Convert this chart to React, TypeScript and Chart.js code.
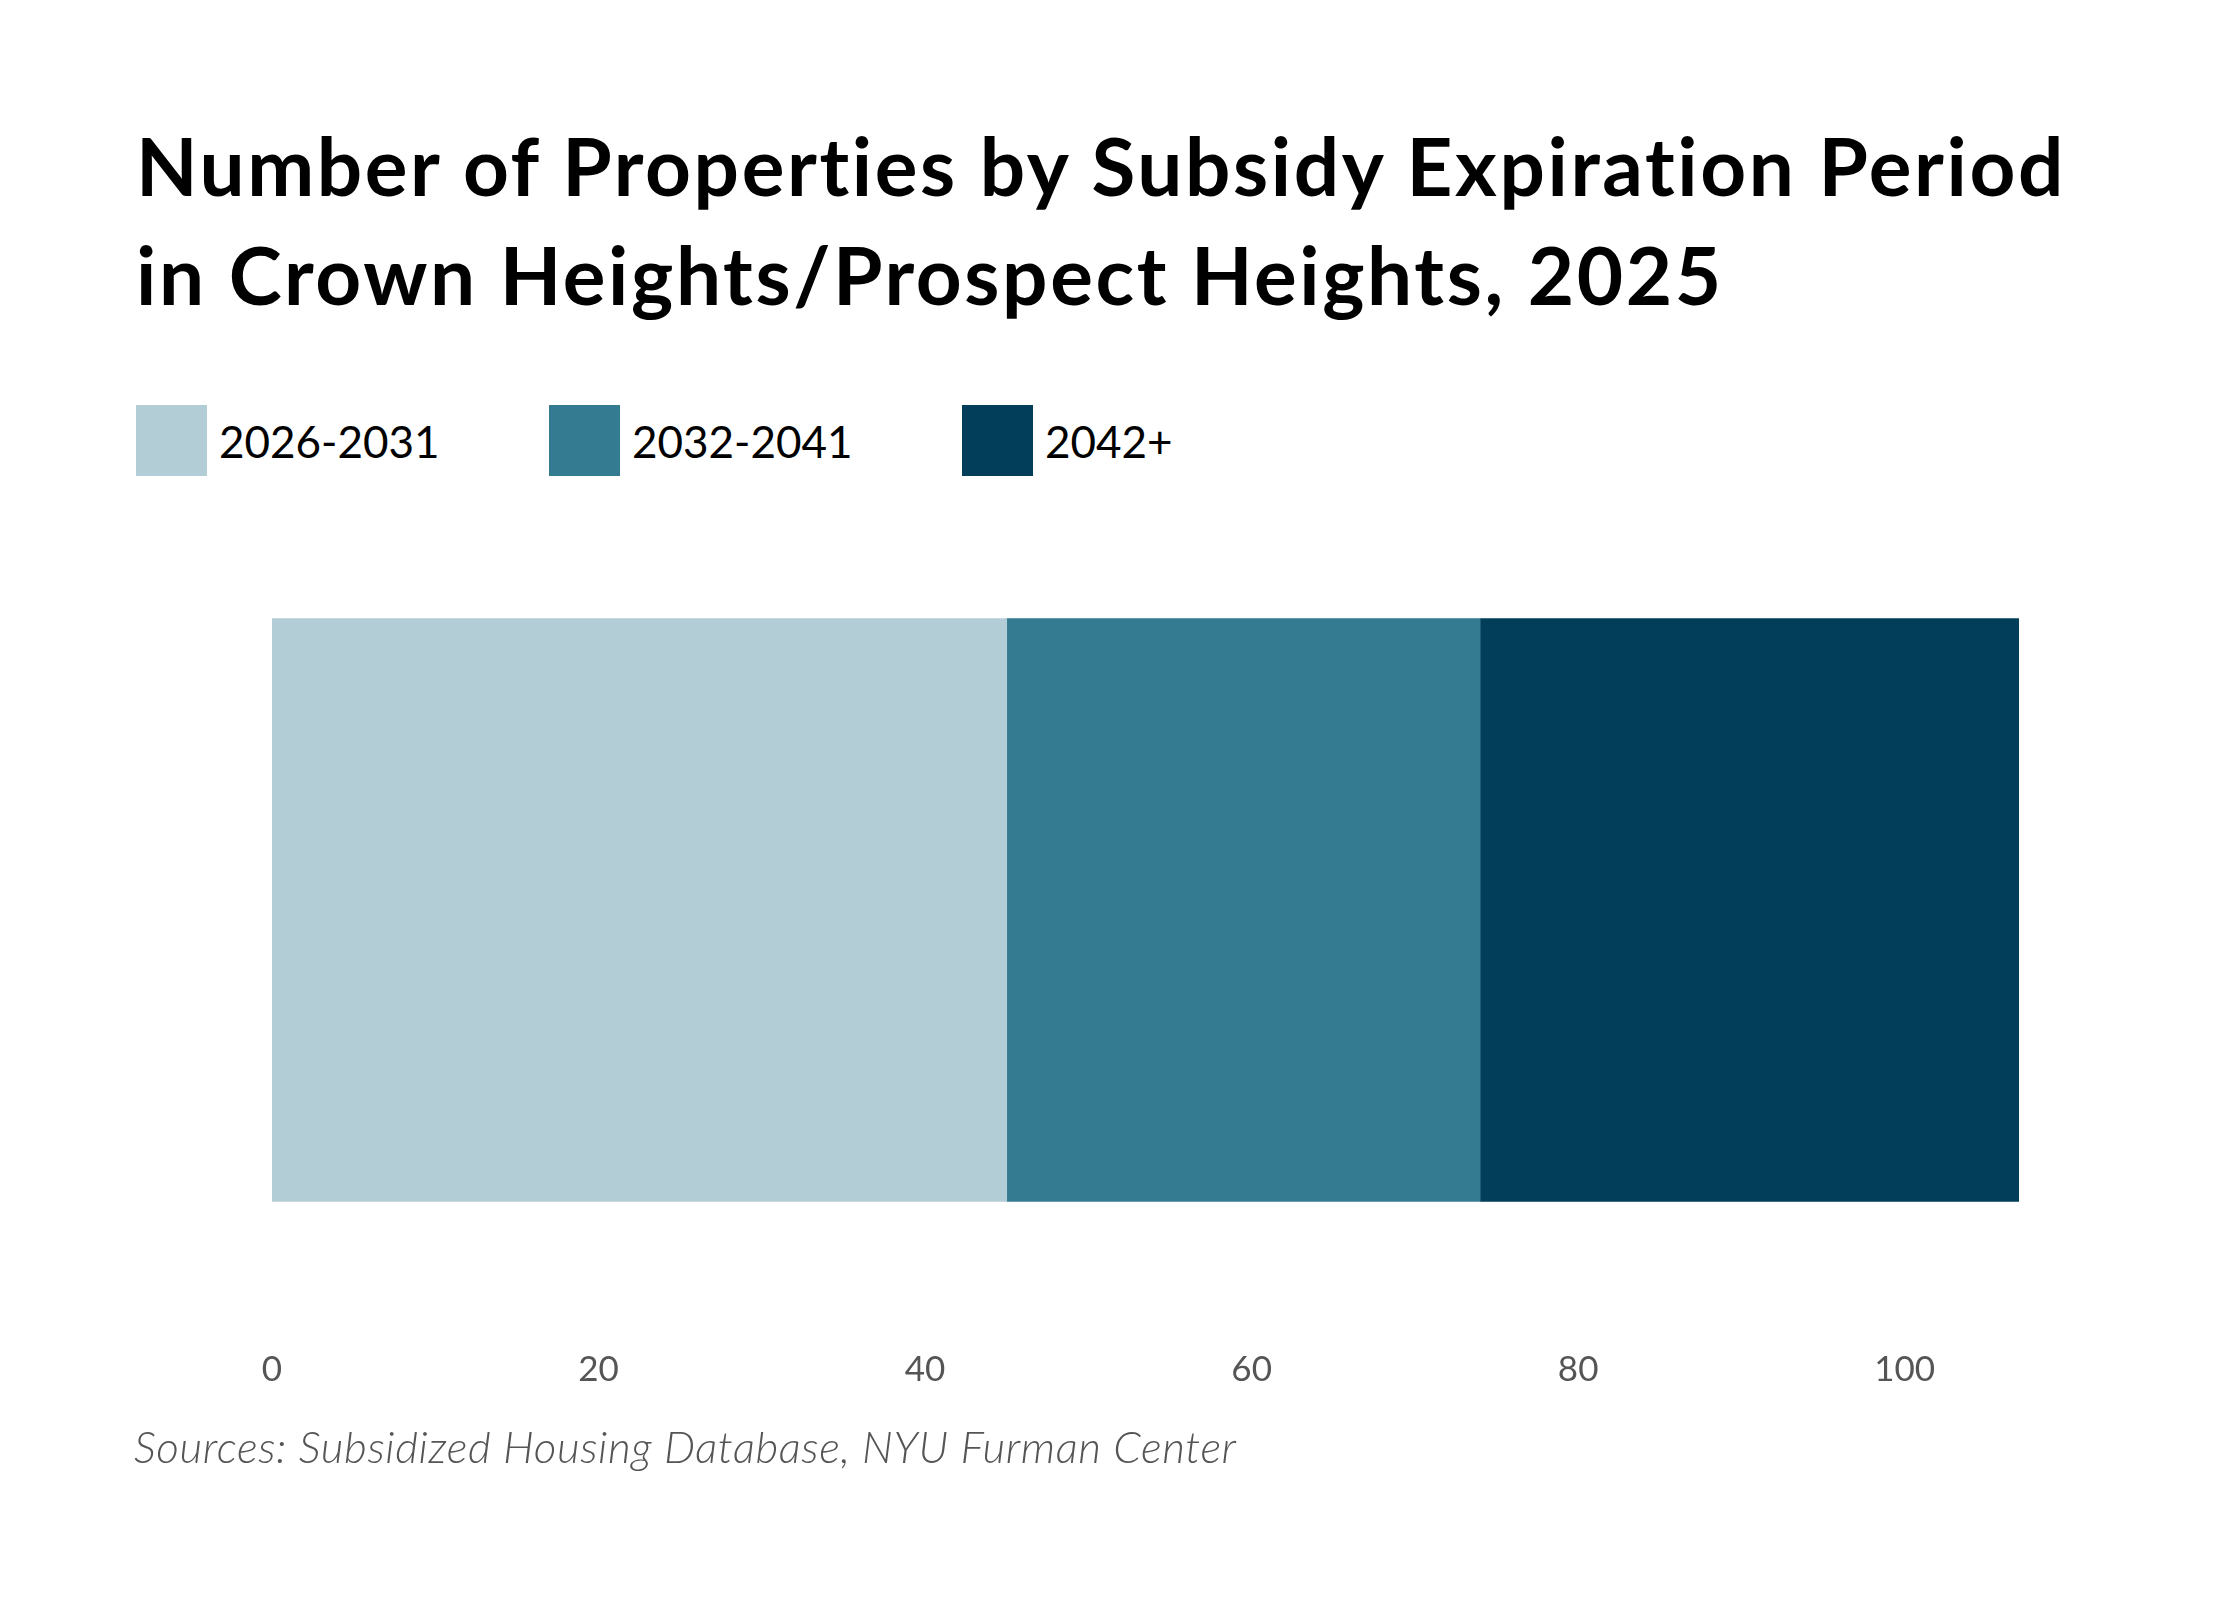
import { useEffect, useRef } from 'react';
import { Chart, registerables } from 'chart.js';

Chart.register(...registerables);

const categories = ['Crown Heights/Prospect Heights'];
const seriesLabels = ['2026-2031', '2032-2041', '2042+'];
const seriesColors = ['#b3cdd6', '#347a91', '#023d59'];
const values2026 = [45];
const values2032 = [29];
const values2042 = [33];
const xTicks = [0, 20, 40, 60, 80, 100];

const seriesValues = [values2026, values2032, values2042];

export default function App() {
  const canvasRef = useRef<HTMLCanvasElement>(null);
  const chartRef = useRef<Chart | null>(null);

  useEffect(() => {
    document.body.style.margin = '0';
    if (!canvasRef.current) return;
    chartRef.current?.destroy();

    chartRef.current = new Chart(canvasRef.current, {
      type: 'bar',
      data: {
        labels: categories,
        datasets: seriesLabels.map((label, i) => ({
          label,
          data: seriesValues[i],
          backgroundColor: seriesColors[i],
          borderWidth: 0,
          barThickness: 583,
        })),
      },
      options: {
        indexAxis: 'y',
        responsive: false,
        animation: false,
        layout: { padding: { left: 272, right: 221, top: 0, bottom: 0 } },
        plugins: {
          legend: { display: false },
          tooltip: { enabled: false },
          title: { display: false },
        },
        scales: {
          x: {
            stacked: true,
            min: 0,
            max: 107,
            afterBuildTicks: (axis) => {
              axis.ticks = xTicks.map((v) => ({ value: v }));
            },
            grid: { display: false, drawTicks: false },
            border: { display: false },
            ticks: {
              padding: 35,
              color: '#555555',
              font: { family: 'Lato', size: 35 },
            },
          },
          y: {
            stacked: true,
            display: false,
          },
        },
      },
    });

    return () => {
      chartRef.current?.destroy();
    };
  }, []);

  return (
    <div style={{ position: 'relative', width: 2240, height: 1600, background: '#fff', fontFamily: 'Lato' }}>
      <div
        style={{
          position: 'absolute',
          left: 136,
          top: 111,
          fontSize: 80,
          fontWeight: 700,
          letterSpacing: 2.6,
          lineHeight: '109px',
          color: '#000',
          whiteSpace: 'nowrap',
        }}
      >
        Number of Properties by Subsidy Expiration Period
        <br />
        in Crown Heights/Prospect Heights, 2025
      </div>
      <div style={{ position: 'absolute', left: 136, top: 405, display: 'flex' }}>
        {seriesLabels.map((label, i) => (
          <div key={label} style={{ display: 'flex', alignItems: 'center', width: 413 }}>
            <div style={{ width: 71, height: 71, background: seriesColors[i] }} />
            <span style={{ marginLeft: 12, fontSize: 44, color: '#000' }}>{label}</span>
          </div>
        ))}
      </div>
      <canvas
        ref={canvasRef}
        width={2240}
        height={920}
        style={{ position: 'absolute', left: 0, top: 506, width: 2240, height: 920 }}
      />
      <div
        style={{
          position: 'absolute',
          left: 134,
          top: 1420,
          fontSize: 44,
          fontStyle: 'italic',
          fontWeight: 300,
          letterSpacing: 0.6,
          color: '#555555',
          whiteSpace: 'nowrap',
        }}
      >
        Sources: Subsidized Housing Database, NYU Furman Center
      </div>
    </div>
  );
}
